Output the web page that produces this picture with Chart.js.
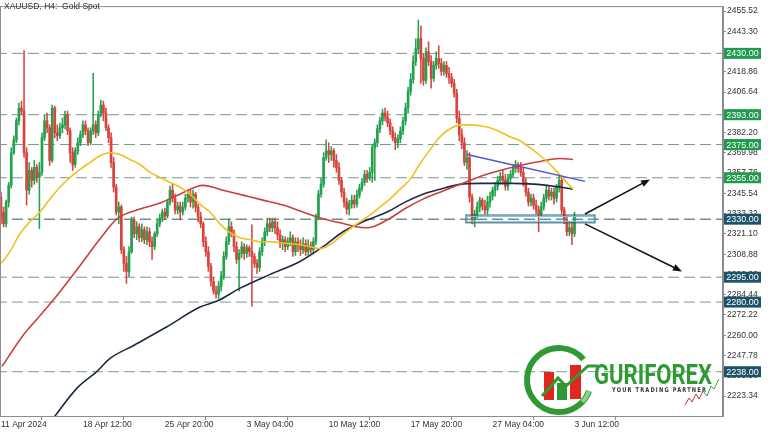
<!DOCTYPE html>
<html lang="en">
<head>
<meta charset="UTF-8">
<title>XAUUSD, H4: Gold Spot</title>
<script src="https://cdn.jsdelivr.net/npm/chart.js"></script>
<style>
  * { margin: 0; padding: 0; box-sizing: border-box; }
  body { background: #fff; width: 768px; height: 432px; overflow: hidden; }
  .wrap { position: relative; width: 768px; height: 432px; }
</style>
</head>
<body>
<div class="wrap"><canvas id="goldChart" width="768" height="432"></canvas></div>
<script>
// H4 candles, one row per bar: [open, high, low, close]
const candles = [
  [2343.3,2346.3,2327.2,2331.3],[2334.3,2337.3,2325.4,2327.2],[2327.2,2341.5,2325.4,2340.3],[2340.3,2352.2,2337.3,2350.4],
  [2350.4,2373.1,2348.7,2370.1],[2370.1,2380.3,2369.0,2377.9],[2377.9,2391.0,2376.1,2389.3],[2389.3,2400.0,2386.9,2397.0],
  [2397.0,2401.2,2392.8,2395.2],[2395.2,2431.6,2367.2,2370.1],[2370.1,2373.1,2338.5,2347.5],[2347.5,2364.2,2345.1,2359.4],
  [2359.4,2361.2,2349.3,2353.4],[2353.4,2365.4,2351.0,2361.2],[2361.2,2363.0,2352.2,2355.2],[2355.2,2364.2,2324.2,2358.2],
  [2358.2,2382.1,2356.4,2379.1],[2379.1,2392.8,2377.3,2389.3],[2389.3,2394.0,2382.1,2385.1],[2385.1,2386.9,2362.4,2365.4],
  [2365.4,2398.8,2364.2,2397.0],[2397.0,2398.2,2379.1,2382.1],[2382.1,2386.9,2377.3,2380.3],[2380.3,2388.1,2378.5,2385.1],
  [2385.1,2391.0,2382.1,2386.9],[2386.9,2395.2,2384.5,2392.8],[2392.8,2395.2,2380.9,2383.3],[2383.3,2385.1,2364.2,2370.1],
  [2370.1,2373.1,2359.4,2363.0],[2363.0,2373.1,2361.2,2371.3],[2371.3,2379.1,2369.0,2376.1],[2376.1,2383.3,2374.3,2380.9],
  [2380.9,2389.3,2379.1,2386.9],[2386.9,2389.3,2380.9,2383.3],[2383.3,2385.1,2374.3,2376.1],[2376.1,2385.1,2374.9,2383.3],
  [2383.3,2417.9,2380.9,2386.9],[2386.9,2389.3,2379.1,2382.1],[2382.1,2395.2,2380.3,2392.8],[2392.8,2401.8,2391.6,2398.8],
  [2398.8,2401.2,2389.3,2394.0],[2394.0,2397.0,2383.3,2385.1],[2385.1,2386.9,2376.1,2379.1],[2379.1,2382.1,2361.2,2364.2],
  [2364.2,2367.2,2346.3,2349.3],[2349.3,2351.0,2332.5,2334.3],[2334.3,2340.3,2327.2,2337.3],[2337.3,2338.5,2309.3,2311.6],
  [2311.6,2313.4,2298.5,2303.3],[2303.3,2307.5,2291.3,2298.5],[2298.5,2313.4,2295.5,2310.4],[2310.4,2331.3,2309.3,2329.6],
  [2329.6,2331.3,2318.8,2321.2],[2321.2,2328.4,2317.6,2325.4],[2325.4,2327.2,2316.4,2318.8],[2318.8,2327.2,2316.4,2323.6],
  [2323.6,2325.4,2315.2,2317.6],[2317.6,2325.4,2314.6,2322.4],[2322.4,2324.8,2313.4,2316.4],[2316.4,2319.4,2305.7,2313.4],
  [2313.4,2322.4,2311.6,2321.2],[2321.2,2329.6,2319.4,2327.2],[2327.2,2333.1,2325.4,2330.7],[2330.7,2336.1,2328.4,2334.3],
  [2334.3,2336.7,2329.6,2331.9],[2331.9,2342.1,2330.7,2340.3],[2340.3,2349.9,2338.5,2347.5],[2347.5,2351.6,2340.3,2342.7],
  [2342.7,2345.1,2333.1,2335.5],[2335.5,2340.3,2333.1,2337.9],[2337.9,2340.3,2329.6,2334.3],[2334.3,2340.3,2332.5,2337.3],
  [2337.3,2345.1,2335.5,2342.7],[2342.7,2347.5,2340.3,2345.1],[2345.1,2347.5,2337.3,2340.3],[2340.3,2347.5,2336.7,2345.1],
  [2345.1,2346.3,2334.3,2337.3],[2337.3,2339.1,2328.4,2331.3],[2331.3,2334.3,2324.8,2327.2],[2327.2,2328.4,2313.4,2316.4],
  [2316.4,2319.4,2307.5,2310.4],[2310.4,2313.4,2298.5,2301.5],[2301.5,2303.3,2289.6,2292.5],[2292.5,2294.9,2284.8,2286.6],
  [2286.6,2289.6,2282.4,2284.8],[2284.8,2292.5,2281.8,2289.6],[2289.6,2298.5,2286.6,2295.5],[2295.5,2310.4,2293.7,2307.5],
  [2307.5,2319.4,2305.7,2316.4],[2316.4,2330.2,2314.6,2325.4],[2325.4,2328.4,2319.4,2321.2],[2321.2,2323.6,2310.4,2313.4],
  [2313.4,2316.4,2303.3,2305.7],[2305.7,2311.6,2286.6,2309.3],[2309.3,2316.4,2306.9,2313.4],[2313.4,2315.2,2305.7,2309.3],
  [2309.3,2314.6,2306.9,2312.8],[2312.8,2314.0,2307.5,2310.4],[2310.4,2326.6,2277.6,2307.5],[2307.5,2309.3,2300.9,2303.3],
  [2303.3,2305.7,2297.3,2300.9],[2300.9,2312.8,2298.5,2310.4],[2310.4,2318.8,2308.1,2316.4],[2316.4,2324.8,2314.0,2322.4],
  [2322.4,2330.7,2320.0,2327.2],[2327.2,2330.7,2322.4,2324.8],[2324.8,2330.7,2322.4,2328.4],[2328.4,2330.7,2321.2,2324.8],
  [2324.8,2328.4,2317.6,2320.6],[2320.6,2323.6,2312.8,2315.2],[2315.2,2320.0,2311.6,2317.6],[2317.6,2319.4,2310.4,2313.4],
  [2313.4,2318.8,2311.6,2316.4],[2316.4,2322.4,2314.0,2318.8],[2318.8,2320.6,2307.5,2310.4],[2310.4,2318.8,2308.1,2316.4],
  [2316.4,2318.8,2310.4,2314.0],[2314.0,2317.6,2308.1,2311.6],[2311.6,2318.8,2309.3,2315.2],[2315.2,2317.6,2308.1,2310.4],
  [2310.4,2317.6,2308.1,2314.0],[2314.0,2316.4,2309.3,2311.6],[2311.6,2318.8,2309.3,2316.4],[2316.4,2333.1,2314.6,2331.3],
  [2331.3,2347.5,2329.6,2345.1],[2345.1,2354.6,2343.3,2351.0],[2351.0,2370.1,2349.3,2367.2],[2367.2,2377.9,2365.4,2371.3],
  [2371.3,2376.1,2364.2,2369.0],[2369.0,2373.7,2365.4,2371.3],[2371.3,2372.5,2361.2,2365.4],[2365.4,2369.0,2358.2,2361.2],
  [2361.2,2364.2,2351.0,2353.4],[2353.4,2355.2,2343.3,2346.3],[2346.3,2348.7,2337.3,2340.3],[2340.3,2342.7,2333.1,2336.1],
  [2336.1,2341.5,2332.5,2339.1],[2339.1,2344.5,2336.7,2341.5],[2341.5,2344.5,2336.7,2339.1],[2339.1,2347.5,2337.3,2344.5],
  [2344.5,2351.0,2342.7,2348.7],[2348.7,2354.6,2346.9,2352.2],[2352.2,2359.4,2350.4,2357.0],[2357.0,2359.4,2352.2,2354.6],
  [2354.6,2361.2,2353.4,2358.2],[2358.2,2374.9,2352.2,2373.1],[2373.1,2378.5,2353.4,2376.1],[2376.1,2386.9,2373.7,2384.5],
  [2384.5,2391.6,2382.1,2389.3],[2389.3,2396.4,2386.9,2394.0],[2394.0,2397.0,2389.3,2391.6],[2391.6,2395.2,2385.7,2388.1],
  [2388.1,2390.4,2380.9,2383.3],[2383.3,2385.7,2377.3,2379.1],[2379.1,2382.1,2371.9,2376.1],[2376.1,2380.9,2373.1,2378.5],
  [2378.5,2385.7,2376.1,2383.3],[2383.3,2391.6,2380.9,2389.3],[2389.3,2400.0,2386.9,2397.0],[2397.0,2409.6,2394.0,2407.2],
  [2407.2,2417.9,2404.8,2414.3],[2414.3,2428.7,2411.9,2425.1],[2425.1,2438.8,2422.7,2432.8],[2432.8,2450.1,2429.9,2438.8],
  [2438.8,2446.6,2411.9,2426.9],[2426.9,2429.9,2410.7,2413.7],[2413.7,2433.4,2411.9,2431.0],[2431.0,2437.0,2422.7,2425.1],
  [2425.1,2428.7,2409.0,2414.9],[2414.9,2425.1,2413.1,2422.7],[2422.7,2431.0,2420.3,2426.9],[2426.9,2434.6,2420.9,2423.9],
  [2423.9,2426.9,2416.7,2419.1],[2419.1,2425.1,2416.7,2422.7],[2422.7,2425.1,2415.5,2417.9],[2417.9,2421.5,2411.9,2415.5],
  [2415.5,2417.9,2409.6,2411.9],[2411.9,2414.3,2403.6,2406.0],[2406.0,2408.4,2388.1,2391.0],[2391.0,2395.2,2377.3,2380.9],
  [2380.9,2384.5,2372.5,2376.1],[2376.1,2379.1,2362.4,2364.2],[2364.2,2371.3,2360.0,2367.2],[2367.2,2370.1,2340.3,2343.3],
  [2343.3,2345.1,2327.2,2329.6],[2329.6,2335.5,2325.4,2333.1],[2333.1,2340.3,2330.7,2337.3],[2337.3,2343.3,2334.3,2341.5],
  [2341.5,2342.7,2335.5,2337.9],[2337.9,2341.5,2333.1,2335.5],[2335.5,2343.9,2333.1,2340.3],[2340.3,2346.3,2337.3,2343.9],
  [2343.9,2349.3,2341.5,2347.5],[2347.5,2352.2,2343.9,2349.9],[2349.9,2355.8,2347.5,2353.4],[2353.4,2358.2,2351.0,2355.8],
  [2355.8,2359.4,2351.0,2353.4],[2353.4,2357.0,2347.5,2349.9],[2349.9,2357.0,2347.5,2354.6],[2354.6,2359.4,2352.2,2357.0],
  [2357.0,2363.0,2355.2,2360.6],[2360.6,2365.4,2358.2,2363.0],[2363.0,2364.2,2358.2,2360.6],[2360.6,2364.2,2355.8,2358.2],
  [2358.2,2361.2,2349.9,2352.2],[2352.2,2354.6,2343.9,2346.3],[2346.3,2348.7,2337.9,2340.3],[2340.3,2345.1,2337.9,2342.7],
  [2342.7,2345.1,2336.1,2338.5],[2338.5,2341.5,2333.1,2335.5],[2335.5,2337.9,2322.4,2333.1],[2333.1,2340.3,2331.3,2337.3],
  [2337.3,2345.1,2335.5,2342.7],[2342.7,2349.9,2340.3,2347.5],[2347.5,2349.9,2341.5,2343.9],[2343.9,2348.7,2341.5,2346.3],
  [2346.3,2348.7,2339.1,2342.7],[2342.7,2351.0,2340.3,2349.3],[2349.3,2357.0,2346.3,2353.4],[2353.4,2355.2,2333.1,2335.5],
  [2335.5,2337.3,2327.2,2329.6],[2329.6,2331.9,2320.0,2322.4],[2322.4,2328.4,2320.0,2324.8],[2324.8,2328.4,2314.6,2321.2],
  [2321.2,2334.3,2319.4,2331.9]
];

// bottom axis: bar index of each label and its text
const xTickIdx = [0, 32, 64, 96, 128, 160, 192, 224];
const xTickText = ['11 Apr 2024', '18 Apr 12:00', '25 Apr 20:00', '3 May 04:00', '10 May 12:00', '17 May 20:00', '27 May 04:00', '3 Jun 12:00'];

// right axis price ticks
const yTicks = [2223.34, 2235.56, 2247.78, 2260.00, 2272.22, 2284.44, 2296.66, 2308.88, 2321.10, 2333.32,
                2345.54, 2357.76, 2369.98, 2382.20, 2394.42, 2406.64, 2418.86, 2431.08, 2443.30, 2455.52];

// horizontal levels
const levelsUpper = [2430, 2393, 2375, 2355];
const levelsLower = [2330, 2295, 2280, 2238];

// moving averages: [bar index, price]
const maFast = [[0,2303.3],[3.5,2310.4],[7.4,2321.2],[11.3,2328.4],[15.2,2334.3],[19.1,2342.1],[23,2349.3],[27,2355.2],
  [30.9,2360.0],[34.8,2364.2],[38.7,2368.4],[42.6,2370.1],[46.5,2369.0],[50.4,2366.0],[54.3,2363.0],[58.2,2358.2],
  [62.1,2355.2],[66,2352.2],[69.9,2349.3],[73.8,2345.1],[77.7,2339.1],[81.6,2334.3],[85.5,2327.2],[89.5,2321.8],
  [93.4,2318.8],[97.3,2317.6],[101.2,2316.4],[105.1,2316.4],[109,2315.8],[112.9,2315.2],[116.8,2314.6],[120.7,2313.4],
  [124.6,2312.2],[128.5,2314.6],[132.4,2319.4],[136.3,2324.2],[140.2,2328.4],[144.1,2332.5],[148,2337.3],[151.9,2342.1],
  [155.9,2348.1],[159.8,2354.0],[163.7,2363.6],[167.6,2371.9],[171.5,2379.7],[175.4,2384.5],[179.3,2386.9],[183.2,2386.9],
  [187.1,2386.3],[191,2385.1],[194.9,2382.7],[198.8,2379.7],[202.7,2377.3],[206.6,2373.1],[210.5,2368.4],[214.5,2363.0],
  [218.4,2356.4],[223.4,2348.1]];
const maMid = [[0.4,2241.2],[8.6,2259.9],[14.1,2269.8],[19.1,2278.8],[23.8,2287.8],[30.9,2302.1],[38.7,2318.2],[45.3,2330.2],
  [54.3,2336.1],[62.1,2339.7],[69.9,2345.1],[78.9,2350.4],[86.7,2347.5],[94.5,2344.5],[102.3,2341.5],[110.2,2338.5],
  [118,2334.3],[125.8,2330.2],[132.4,2327.8],[138.7,2325.4],[142.6,2324.8],[145.3,2325.4],[151.6,2330.2],[158.2,2336.7],
  [164.8,2342.1],[171.5,2346.3],[179.3,2351.0],[187.1,2355.8],[194.9,2359.4],[202.7,2362.4],[210.5,2364.8],[218.4,2366.6],
  [223.4,2366.0]];
const maSlow = [[17.2,2203.0],[21.1,2211.3],[29.7,2228.1],[37.5,2238.2],[42.6,2246.0],[51.6,2253.7],[64.8,2265.1],[77.7,2277.0],
  [84.4,2280.6],[93.4,2288.4],[105.1,2296.7],[116.8,2304.5],[125.8,2313.4],[133.6,2322.4],[141.4,2328.4],[151.6,2334.9],
  [157.8,2340.3],[164.8,2345.1],[171.5,2348.1],[179.3,2351.0],[187.1,2351.6],[200,2351.6],[213.3,2350.4],[223.4,2348.1]];

// drawn objects: [bar index, price]
const trendLine = [[182.0, 2369.0], [228.1, 2352.8]];
const zoneBox = [[181.6, 2332.5], [232.0, 2327.8]];
const arrowUp = [[228.1, 2333.1], [253.5, 2354.0]];
const arrowDown = [[228.1, 2327.2], [266.0, 2298.5]];

const upColor = '#22a24c';
const downColor = '#d8433d';
const barColors = candles.map(c => c[3] >= c[0] ? upColor : downColor);

Chart.defaults.font.family = 'Liberation Sans';

const datasets = [];
levelsUpper.concat(levelsLower).forEach(v => {
    datasets.push({
        type: 'line',
        data: [{x: -2, y: v}, {x: 300, y: v}],
        borderColor: v === 2330 ? '#2c5a5c' : '#7a968d',
        borderWidth: 1,
        borderDash: [11, 5],
        pointRadius: 0,
        order: 10
    });
});
datasets.push({
    type: 'bar',
    data: candles.map((c, i) => ({x: i, y: [c[2], c[1]]})),
    backgroundColor: barColors,
    barThickness: 0.9,
    grouped: false,
    order: 6
});
datasets.push({
    type: 'bar',
    data: candles.map((c, i) => ({x: i, y: [c[0], c[3]]})),
    backgroundColor: barColors,
    barThickness: 2,
    minBarLength: 1,
    grouped: false,
    order: 5
});
const lineSet = (pts, color, width, order) => ({
    type: 'line',
    data: pts.map(p => ({x: p[0], y: p[1]})),
    borderColor: color,
    borderWidth: width,
    pointRadius: 0,
    cubicInterpolationMode: 'monotone',
    order: order
});
datasets.push(lineSet(maSlow, '#1c2b45', 1.6, 4));
datasets.push(lineSet(maMid, '#c9403a', 1.6, 3));
datasets.push(lineSet(maFast, '#f0c01e', 1.6, 2));
datasets.push(lineSet(trendLine, '#5158d0', 1.4, 1));

const drawArrow = (ctx, x1, y1, x2, y2) => {
    const a = Math.atan2(y2 - y1, x2 - x1);
    ctx.beginPath();
    ctx.moveTo(x1, y1);
    ctx.lineTo(x2 - 6 * Math.cos(a), y2 - 6 * Math.sin(a));
    ctx.stroke();
    ctx.beginPath();
    ctx.moveTo(x2, y2);
    ctx.lineTo(x2 - 9 * Math.cos(a) + 3.5 * Math.sin(a), y2 - 9 * Math.sin(a) - 3.5 * Math.cos(a));
    ctx.lineTo(x2 - 9 * Math.cos(a) - 3.5 * Math.sin(a), y2 - 9 * Math.sin(a) + 3.5 * Math.cos(a));
    ctx.closePath();
    ctx.fill();
};

const overlay = {
    id: 'overlay',
    afterDatasetsDraw(chart) {
        const {ctx, scales: {x, y}} = chart;
        // support zone
        const zx1 = x.getPixelForValue(zoneBox[0][0]), zy1 = y.getPixelForValue(zoneBox[0][1]);
        const zx2 = x.getPixelForValue(zoneBox[1][0]), zy2 = y.getPixelForValue(zoneBox[1][1]);
        ctx.save();
        ctx.strokeStyle = '#1f5a68';
        ctx.lineWidth = 1;
        ctx.strokeRect(zx1, zy1, zx2 - zx1, zy2 - zy1);
        ctx.strokeStyle = '#7fc3dc';
        ctx.strokeRect(zx1 + 1.5, zy1 + 1.5, zx2 - zx1 - 3, zy2 - zy1 - 3);
        // arrows
        ctx.strokeStyle = '#111';
        ctx.fillStyle = '#111';
        ctx.lineWidth = 1.5;
        [arrowUp, arrowDown].forEach(a => {
            drawArrow(ctx, x.getPixelForValue(a[0][0]), y.getPixelForValue(a[0][1]),
                      x.getPixelForValue(a[1][0]), y.getPixelForValue(a[1][1]));
        });
        ctx.restore();
    },
    afterDraw(chart) {
        const {ctx, chartArea: ca, scales: {y}} = chart;
        ctx.save();
        // frame
        ctx.strokeStyle = '#8c8c8c';
        ctx.lineWidth = 1;
        ctx.strokeRect(ca.left + 0.5, ca.top + 0.5, ca.right - ca.left - 1, ca.bottom - ca.top);
        // title
        ctx.fillStyle = '#333';
        ctx.font = '8.5px "Liberation Sans"';
        ctx.textBaseline = 'middle';
        ctx.textAlign = 'left';
        ctx.fillText('XAUUSD, H4:  Gold Spot', 4, 7);
        // level tags on the price axis
        ctx.font = '9px "Liberation Sans"';
        ctx.textAlign = 'center';
        levelsUpper.concat(levelsLower).forEach(v => {
            const py = y.getPixelForValue(v);
            ctx.fillStyle = levelsUpper.includes(v) ? '#1f9a4e' : '#1b5368';
            ctx.fillRect(ca.right + 1, py - 5.5, 37, 11);
            ctx.fillStyle = '#fff';
            ctx.fillText(v.toFixed(2), ca.right + 19.5, py + 0.5);
        });
        // logo
        ctx.lineWidth = 6;
        ctx.strokeStyle = '#2f9a33';
        ctx.beginPath();
        ctx.arc(559, 380, 32, -0.7, 0.35, true);
        ctx.stroke();
        ctx.strokeStyle = '#8fd08a';
        ctx.lineWidth = 4;
        ctx.beginPath();
        ctx.arc(559, 380, 32, 0.35, 0.75, false);
        ctx.stroke();
        ctx.fillStyle = '#e0261f';
        ctx.fillRect(544, 372, 10, 28);
        ctx.fillRect(570, 365, 11, 34);
        ctx.fillStyle = '#2f9a33';
        ctx.fillRect(557, 383, 10, 17);
        ctx.lineWidth = 3;
        ctx.strokeStyle = '#2f9a33';
        ctx.beginPath();
        ctx.moveTo(542, 396);
        ctx.lineTo(558, 378);
        ctx.lineTo(566, 386);
        ctx.lineTo(588, 366);
        ctx.lineTo(598, 366);
        ctx.stroke();
        ctx.fillStyle = '#2f9a33';
        ctx.font = 'bold 27px Roboto';
        ctx.textAlign = 'left';
        ctx.textBaseline = 'alphabetic';
        ctx.fillText('GURIFOREX', 594, 384, 118);
        ctx.fillStyle = '#333';
        ctx.font = 'bold 6.5px "DejaVu Sans"';
        ctx.letterSpacing = '1.5px';
        ctx.fillText('YOUR TRADING PARTNER', 612, 392, 95);
        ctx.letterSpacing = '0px';
        ctx.lineWidth = 1;
        ctx.strokeStyle = '#c0392b';
        ctx.beginPath();
        ctx.moveTo(685, 405); ctx.lineTo(689, 398); ctx.lineTo(692, 402); ctx.lineTo(696, 394);
        ctx.lineTo(699, 399); ctx.lineTo(703, 391);
        ctx.stroke();
        ctx.strokeStyle = '#3c9a3c';
        ctx.beginPath();
        ctx.moveTo(703, 391); ctx.lineTo(707, 396); ctx.lineTo(711, 386); ctx.lineTo(714, 389); ctx.lineTo(719, 379);
        ctx.stroke();
        ctx.restore();
    }
};

new Chart(document.getElementById('goldChart').getContext('2d'), {
    type: 'bar',
    data: {datasets: datasets},
    options: {
        responsive: false,
        animation: false,
        devicePixelRatio: 1,
        layout: {padding: {top: 2, left: 0, right: 0, bottom: 0}},
        plugins: {legend: {display: false}, tooltip: {enabled: false}},
        scales: {
            x: {
                type: 'linear',
                min: -0.39,
                max: 282,
                offset: false,
                grid: {drawOnChartArea: false, tickLength: 4, color: '#8c8c8c'},
                border: {color: '#8c8c8c'},
                ticks: {
                    align: 'start',
                    autoSkip: false,
                    maxRotation: 0,
                    padding: 0,
                    color: '#333',
                    font: {size: 8.5},
                    callback: v => {
                        const k = xTickIdx.indexOf(v);
                        return k >= 0 ? xTickText[k] : '';
                    }
                },
                afterBuildTicks: s => { s.ticks = xTickIdx.map(v => ({value: v})); },
                afterFit: s => { s.height = 16; }
            },
            y: {
                type: 'linear',
                position: 'right',
                min: 2211.3,
                max: 2458.5,
                grid: {drawOnChartArea: false, tickLength: 3, color: '#8c8c8c'},
                border: {color: '#8c8c8c'},
                ticks: {
                    padding: 1,
                    color: '#333',
                    font: {size: 8.5},
                    callback: v => v.toFixed(2)
                },
                afterBuildTicks: s => { s.ticks = yTicks.map(v => ({value: v})); },
                afterFit: s => { s.width = 45; }
            }
        }
    },
    plugins: [overlay]
});
</script>
</body>
</html>
